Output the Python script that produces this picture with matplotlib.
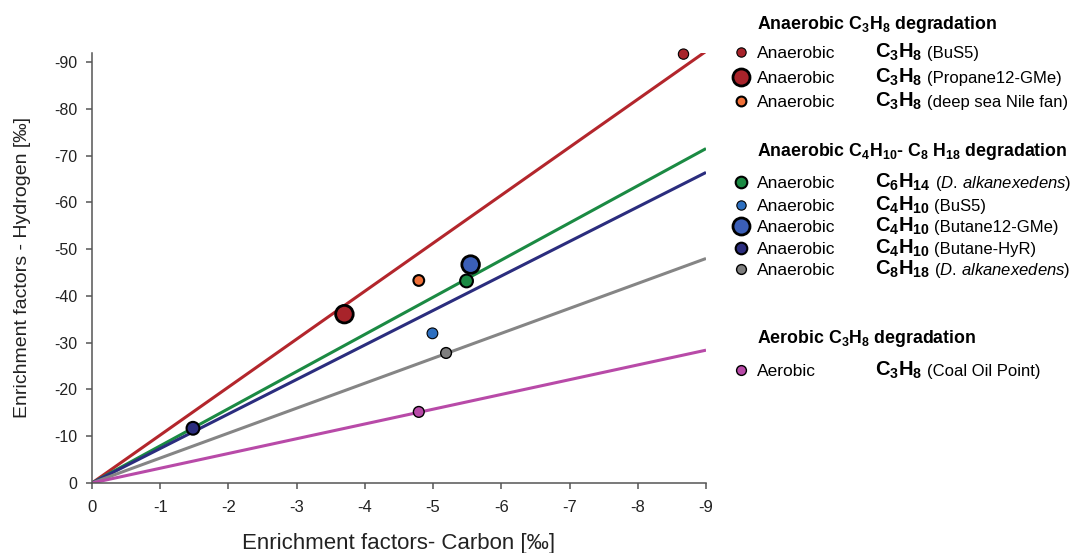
import matplotlib
matplotlib.use('Agg')
import matplotlib.pyplot as plt

plt.rcParams['font.family'] = ['Liberation Sans', 'DejaVu Sans']
plt.rcParams['axes.unicode_minus'] = False
plt.rcParams['mathtext.fontset'] = 'custom'
plt.rcParams['mathtext.rm'] = 'Liberation Sans'
plt.rcParams['mathtext.bf'] = 'Liberation Sans:bold'
plt.rcParams['mathtext.it'] = 'Liberation Sans:italic'

# data: enrichment factors (carbon, hydrogen) in permil
carbon = [-8.67, -3.70, -4.79, -5.49, -4.99, -5.55, -1.48, -5.19, -4.79]
hydrogen = [-91.7, -36.1, -43.3, -43.2, -32.0, -46.7, -11.7, -27.8, -15.2]
kind = ['Anaerobic'] * 8 + ['Aerobic']
formula = [r'$\mathbf{C_3H_8}$', r'$\mathbf{C_3H_8}$', r'$\mathbf{C_3H_8}$',
           r'$\mathbf{C_6H_{14}}$', r'$\mathbf{C_4H_{10}}$', r'$\mathbf{C_4H_{10}}$',
           r'$\mathbf{C_4H_{10}}$', r'$\mathbf{C_8H_{18}}$', r'$\mathbf{C_3H_8}$']
source = ['(BuS5)', '(Propane12-GMe)', '(deep sea Nile fan)',
          r'($\mathit{D.\,alkanexedens}$)', '(BuS5)', '(Butane12-GMe)',
          '(Butane-HyR)', r'($\mathit{D.\,alkanexedens)}$', '(Coal Oil Point)']
point_colors = ['#a8232a', '#a8232a', '#f07038', '#1b8a43', '#2d6fc0',
                '#3b5fb8', '#2b2d7e', '#7f7f7f', '#b84aa8']
point_sizes = [55, 160, 60, 85, 60, 160, 85, 60, 60]
edge_widths = [0.8, 2.0, 1.5, 1.5, 0.8, 2.0, 1.5, 1.0, 1.0]

# regression lines through the origin, value reached at carbon = -9
line_h_at_end = [-92.3, -71.5, -66.4, -48.0, -28.4]
line_colors = ['#b3262c', '#1b8a43', '#2b2d7e', '#858585', '#b84aa8']

headers = [r'Anaerobic $\mathbf{C_3H_8}$ degradation',
           r'Anaerobic $\mathbf{C_4H_{10}}$- $\mathbf{C_8\ H_{18}}$ degradation',
           r'Aerobic $\mathbf{C_3H_8}$ degradation']

W, H = 1079, 553
fig = plt.figure(figsize=(W / 100, H / 100), dpi=100, facecolor='white')
ax = fig.add_axes([92 / W, 1 - 483 / H, 614 / W, 430.3 / H])

for yend, c in zip(line_h_at_end, line_colors):
    ax.plot([0, -9], [0, yend], color=c, lw=2.2, solid_capstyle='butt', zorder=2)

ax.scatter(carbon, hydrogen, s=point_sizes, c=point_colors,
           edgecolors='black', linewidths=edge_widths, zorder=3, clip_on=False)

ax.set_xlim(0, -9)
ax.set_ylim(0, -92)
ax.set_xticks(range(0, -10, -1))
ax.set_yticks(range(0, -100, -10))
for s in ['top', 'right']:
    ax.spines[s].set_visible(False)
for s in ['left', 'bottom']:
    ax.spines[s].set_color('#555555')
    ax.spines[s].set_linewidth(1.1)
ax.tick_params(direction='out', length=4.5, width=1.1, color='#555555',
               labelcolor='#222222')
ax.tick_params(axis='y', pad=6, labelsize=11.5)
ax.tick_params(axis='x', pad=7.5, labelsize=12)

ax.set_xlabel('Enrichment factors- Carbon [‰]', fontsize=16, color='#222222')
ax.set_ylabel('Enrichment factors - Hydrogen [‰]', fontsize=14, color='#222222')
ax.xaxis.set_label_coords(0.5, (483 - 544) / 430.3)
ax.xaxis.label.set_va('center')
ax.yaxis.set_label_coords((23 - 92) / 614, 0.5)
ax.yaxis.label.set_va('center')

# legend drawn by hand
def fx(x):
    return x / W

def fy(y):
    return 1 - y / H

header_y = [23, 150, 337]
row_y = [52, 77, 101, 182, 205, 226, 248, 269, 370]
legend_sizes = [45, 150, 50, 70, 45, 150, 70, 50, 50]

for txt, y in zip(headers, header_y):
    fig.text(fx(757), fy(y + 6), txt, fontsize=12.8, fontweight='bold',
             va='baseline', ha='left')

for i, y in enumerate(row_y):
    fig.add_artist(plt.Line2D([fx(741)], [fy(y)], marker='o', linestyle='none',
                              markersize=(legend_sizes[i] ** 0.5),
                              markerfacecolor=point_colors[i],
                              markeredgecolor='black',
                              markeredgewidth=edge_widths[i]))
    fig.text(fx(757), fy(y + 6), kind[i], fontsize=12.5, va='baseline', ha='left')
    t = fig.text(fx(875), fy(y + 6), formula[i], fontsize=14.5, va='baseline', ha='left')
    ax.annotate(source[i], xy=(1, fy(y + 6)), xycoords=(t, 'figure fraction'),
                xytext=(3, 0), textcoords='offset points',
                fontsize=12, va='baseline', ha='left', annotation_clip=False)

fig.savefig('out.png', dpi=100, facecolor='white')
